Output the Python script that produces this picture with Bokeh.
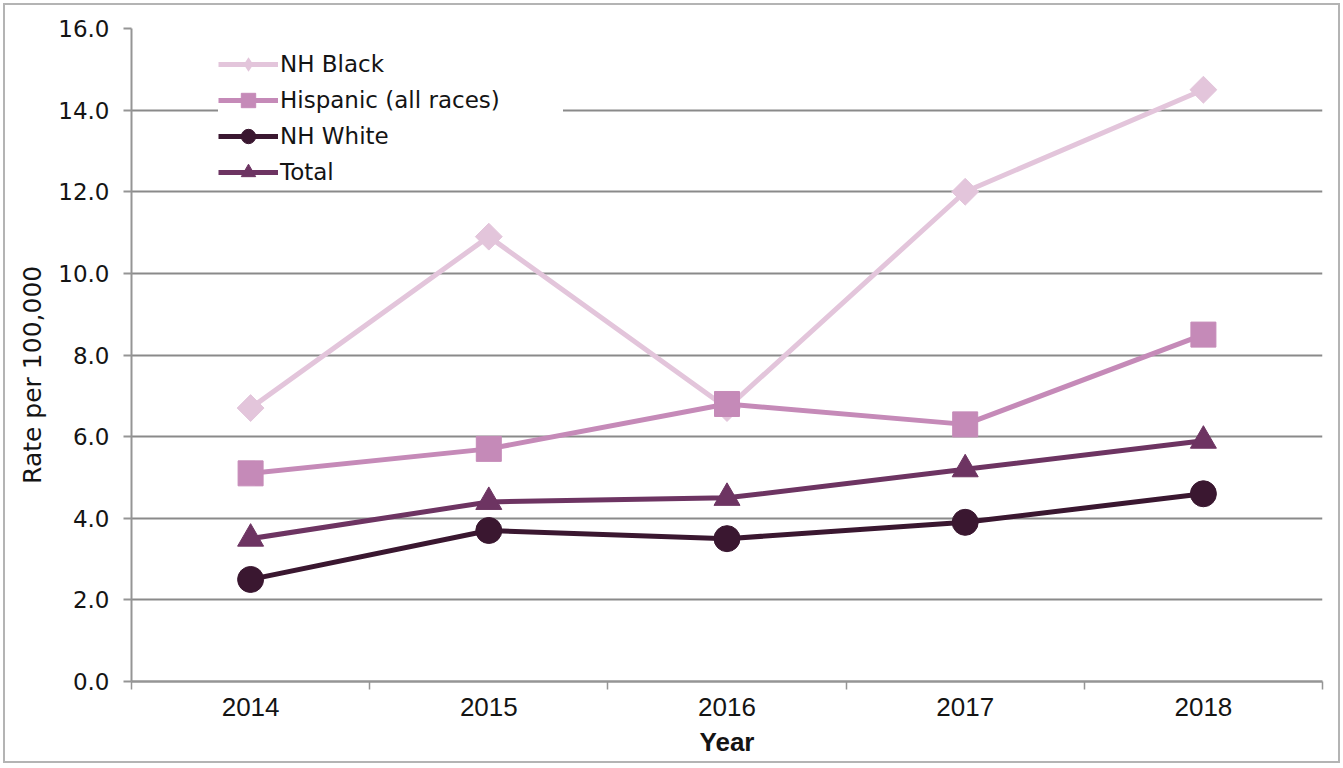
from bokeh.plotting import figure
from bokeh.models import (ColumnDataSource, Range1d, FixedTicker, NumeralTickFormatter,
                          CustomJSTickFormatter, Legend, LegendItem)
from bokeh.embed import file_html
from bokeh.resources import INLINE
import math

# Rates per 100,000 by year and group
years = ["2014", "2015", "2016", "2017", "2018"]
nh_black = [6.7, 10.9, 6.7, 12.0, 14.5]
hispanic = [5.1, 5.7, 6.8, 6.3, 8.5]
nh_white = [2.5, 3.7, 3.5, 3.9, 4.6]
total = [3.5, 4.4, 4.5, 5.2, 5.9]

y_ticks = [0, 2, 4, 6, 8, 10, 12, 14, 16]

# one x slot per year, points at slot centres
x_pos = [i + 0.5 for i in range(len(years))]
src = ColumnDataSource(dict(x=x_pos, black=nh_black, hisp=hispanic,
                            white=nh_white, total=total))

TICK_FONT = "DejaVu Sans"
CAT_FONT = "Liberation Sans"
TEXT = "#141414"
GRID = "#8a8a8a"
AXIS = "#959595"

p = figure(frame_width=1191, frame_height=653,
           x_range=Range1d(0, len(years)), y_range=Range1d(0, 16),
           output_backend="svg", toolbar_location=None,
           min_border_left=126, min_border_right=16, min_border_top=23, min_border_bottom=80,
           background_fill_color="white", border_fill_color="white")
p.styles = {"border": "2px solid #b4b4b4", "margin": "3px 0 0 3px"}
p.outline_line_color = None
p.xgrid.grid_line_color = None
p.ygrid.grid_line_color = GRID
p.ygrid.grid_line_width = 2
p.ygrid.ticker = FixedTicker(ticks=y_ticks)

# y axis
p.yaxis.ticker = FixedTicker(ticks=y_ticks)
p.yaxis.formatter = NumeralTickFormatter(format="0.0")
p.yaxis.axis_line_color = AXIS
p.yaxis.axis_line_width = 2
p.yaxis.major_tick_line_color = AXIS
p.yaxis.major_tick_line_width = 2
p.yaxis.major_tick_out = 8
p.yaxis.major_tick_in = 0
p.yaxis.minor_tick_line_color = None
p.yaxis.major_label_text_font = TICK_FONT
p.yaxis.major_label_text_font_size = "23px"
p.yaxis.major_label_text_color = TEXT
p.yaxis.major_label_standoff = 14
p.yaxis.axis_label = "Rate per 100,000\u00a0\u00a0\u00a0\u00a0\u00a0"
p.yaxis.axis_label_text_font = TICK_FONT
p.yaxis.axis_label_text_font_style = "normal"
p.yaxis.axis_label_text_font_size = "25px"
p.yaxis.axis_label_text_color = TEXT
p.yaxis.axis_label_standoff = 8

# x axis: labels at slot centres, tick marks on slot boundaries
p.xaxis.ticker = FixedTicker(ticks=x_pos, minor_ticks=list(range(len(years) + 1)))
p.xaxis.formatter = CustomJSTickFormatter(args=dict(labels=years),
                                          code="return labels[Math.round(tick - 0.5)];")
p.xaxis.axis_line_color = AXIS
p.xaxis.axis_line_width = 2.5
p.xaxis.major_tick_line_color = None
p.xaxis.major_tick_out = 8
p.xaxis.major_tick_in = 0
p.xaxis.minor_tick_line_color = AXIS
p.xaxis.minor_tick_line_width = 1.5
p.xaxis.minor_tick_out = 8
p.xaxis.minor_tick_in = 0
p.xaxis.major_label_text_font = CAT_FONT
p.xaxis.major_label_text_font_size = "26px"
p.xaxis.major_label_text_color = TEXT
p.xaxis.major_label_standoff = 8
p.xaxis.axis_label = "Year"
p.xaxis.axis_label_text_font = CAT_FONT
p.xaxis.axis_label_text_font_style = "bold"
p.xaxis.axis_label_text_font_size = "26px"
p.xaxis.axis_label_text_color = TEXT
p.xaxis.axis_label_standoff = 8

# (label, column, colour, plotted marker, legend marker)
series = [
    ("NH Black", "black", "#e3c5db", dict(marker="square", size=19, angle=math.pi / 4), "diamond"),
    ("Hispanic (all races)", "hisp", "#c58ab8", dict(marker="square", size=25), None),
    ("NH White", "white", "#3a1730", dict(marker="circle", size=26), None),
    ("Total", "total", "#6d3462", dict(marker="triangle", size=26), None),
]

items = []
for label, col, color, mk, legend_marker in series:
    ln = p.line("x", col, source=src, line_color=color, line_width=5)
    sc = p.scatter("x", col, source=src, fill_color=color, line_color=color, **mk)
    if legend_marker:
        # zero-size markers: invisible on the plot, the legend sizes its own swatch
        sw = p.scatter("x", col, source=src, marker=legend_marker,
                       fill_color=color, line_color=color, line_width=0, size=0)
        items.append(LegendItem(label=label, renderers=[ln, sw]))
    else:
        items.append(LegendItem(label=label, renderers=[ln, sc]))

legend = Legend(items=items, location=(87, 491),
                glyph_width=60, glyph_height=36, label_height=36, spacing=0,
                label_standoff=2, label_width=283, padding=0, margin=0,
                label_text_font=TICK_FONT, label_text_font_size="23px",
                label_text_color=TEXT,
                background_fill_color="white", background_fill_alpha=1.0,
                border_line_color=None)
p.add_layout(legend, "center")

open("out.html", "w").write(file_html(p, INLINE))
